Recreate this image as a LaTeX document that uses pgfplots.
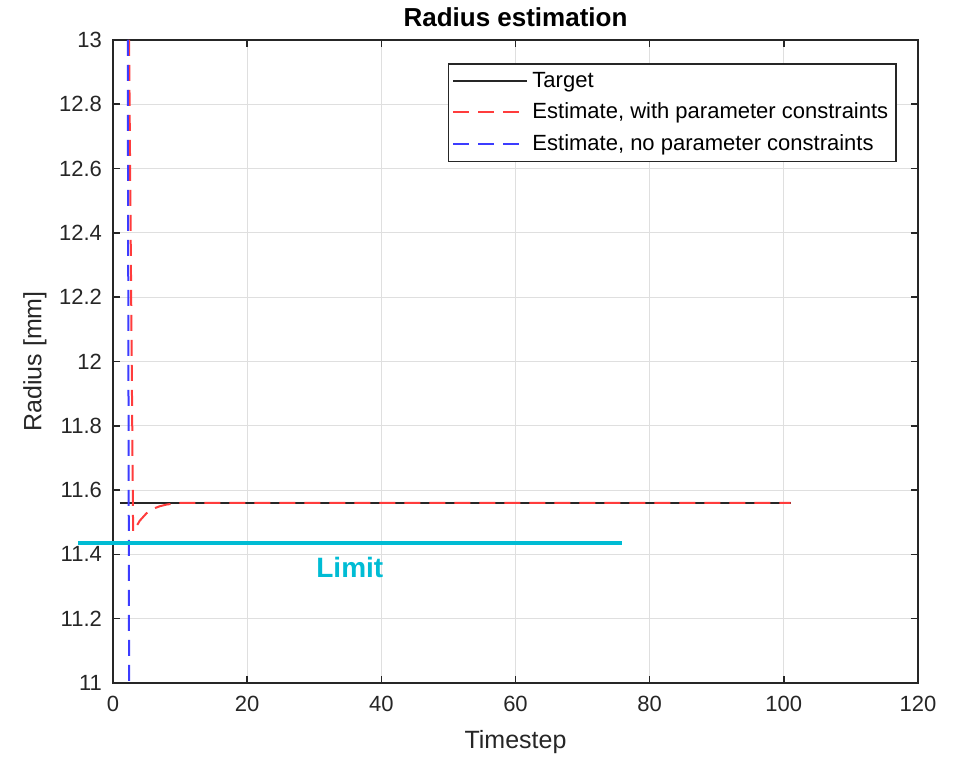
\documentclass[border=0pt]{standalone}
\usepackage{pgfplots}
\pgfplotsset{compat=1.18}
\usepackage{fontspec}
\setmainfont{Liberation Sans}
\definecolor{mred}{RGB}{255,60,60}
\definecolor{mblue}{RGB}{60,60,255}
\definecolor{mcyan}{RGB}{0,188,212}
\definecolor{axgray}{RGB}{38,38,38}
\definecolor{gridgray}{RGB}{223,223,223}
\begin{document}
\begin{tikzpicture}
\useasboundingbox (-56.5pt,-38pt) rectangle (426.5pt,341.5pt);
\begin{axis}[
  scale only axis,
  width=402.5pt, height=321.5pt,
  at={(0,0)}, anchor=south west,
  xmin=0, xmax=120, ymin=11, ymax=13,
  xtick={0,20,...,120},
  ytick={11,11.2,...,13.01},
  yticklabels={11,11.2,11.4,11.6,11.8,12,12.2,12.4,12.6,12.8,13},
  xticklabels={0,20,40,60,80,100,120},
  clip=false,
  grid=major,
  major grid style={gridgray, line width=0.5pt},
  axis line style={axgray, line width=0.8pt},
  tick style={axgray, line width=0.8pt},
  tick align=inside,
  major tick length=3.5pt,
  ticklabel style={font=\fontsize{11}{13}\selectfont, text=axgray},
  /pgf/number format/assume math mode=true,
  xticklabel style={yshift=-3pt},
  yticklabel style={xshift=-2pt},
  xlabel={Timestep},
  ylabel={Radius [mm]},
  label style={font=\fontsize{12.5}{14}\selectfont, text=axgray},
  xlabel style={at={(axis description cs:0.5,-0.0918)}, anchor=center},
  ylabel style={at={(axis description cs:-0.097,0.5)}, anchor=center},
  legend style={at={(0.974,0.964)}, anchor=north east, draw=axgray, line width=0.8pt,
     font=\fontsize{11}{13}\selectfont, fill=white, inner xsep=2pt, inner ysep=2.2pt,
     row sep=2.2pt, cells={anchor=west}},
  legend cell align=left,
  legend image code/.code={\draw[#1] (0pt,0pt) -- (37pt,0pt);},
]
\addplot[axgray, line width=1pt] coordinates {(1,11.56) (101,11.56)};
\addlegendentry{Target}
\addplot[mred, line width=1pt, dash pattern=on 8pt off 4.5pt] coordinates {
 (2.395,13) (3,11.47) (4,11.505) (5,11.528) (6,11.542) (7,11.55) (8,11.555) (9,11.558) (10,11.56) (11,11.56) (101,11.56)};
\addlegendentry{Estimate, with parameter constraints}
\addplot[mblue, line width=1pt, dash pattern=on 8pt off 4.5pt] coordinates {(2.2,13) (2.4,11)};
\addlegendentry{Estimate, no parameter constraints}
\addplot[mcyan, line width=2pt, forget plot] coordinates {(-5.2,11.435) (75.9,11.435)};
\node[text=mcyan, font=\fontsize{14}{16}\selectfont\bfseries] at (axis cs:35.3,11.358) {Limit};
\node[font=\fontsize{13}{15}\selectfont\bfseries, text=black] at (rel axis cs:0.5,1.0358) {Radius estimation};
\end{axis}
\end{tikzpicture}
\end{document}
